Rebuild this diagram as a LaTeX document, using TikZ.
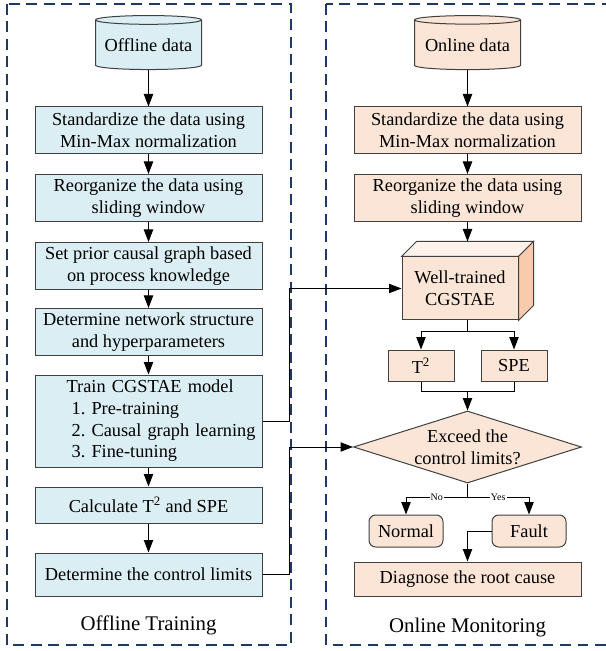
\documentclass[tikz,border=0pt]{standalone}
\usepackage{fontspec}
\setmainfont{Liberation Serif}
\usepackage{tikz}
\usetikzlibrary{arrows.meta, positioning, shapes.geometric, calc}
\definecolor{offblue}{HTML}{DAEEF3}
\definecolor{onpeach}{HTML}{FBE5D6}
\definecolor{cubetop}{HTML}{FDF2EC}
\definecolor{cubeside}{HTML}{F8CBAD}
\definecolor{panelblue}{HTML}{203864}
\tikzset{%
	base/.style={draw=black!75, line width=0.6pt, inner sep=0pt, align=center,%
		font=\fontsize{11}{13}\selectfont\frenchspacing},
	offbox/.style={base, fill=offblue, minimum width=136.2pt, minimum height=28.2pt},
	onbox/.style={base, fill=onpeach, minimum width=136.2pt, minimum height=28.2pt},
	store/.style={base, cylinder, shape border rotate=90, aspect=0.1,%
		minimum width=63.6pt, minimum height=32.4pt},
	decision/.style={base, diamond, fill=onpeach, minimum width=136.8pt,%
		minimum height=43.2pt, aspect=3.2},
	result/.style={base, rounded corners=4pt, fill=onpeach, minimum width=44.4pt,%
		minimum height=19.2pt},
	panel/.style={draw=panelblue, line width=0.7pt, dash pattern=on 6.5pt off 4pt},
	flow/.style={-{Triangle[length=7.5pt, width=5.6pt]}, line width=0.6pt},
	link/.style={line width=0.6pt},
	face/.style={draw=black!75, line width=0.6pt},
	caption/.style={font=\fontsize{12.5}{14}\selectfont},
	tag/.style={fill=white, inner sep=0.6pt, font=\fontsize{6}{6}\selectfont}
}

\begin{document}
\begin{tikzpicture}[x=0.6pt, y=-0.6pt]
	\useasboundingbox (0,0) rectangle (605,651);
	\draw[panel] (7,4) rectangle (291,645);
	\draw[panel] (326,4) rectangle (607,645);

	% offline training
	\node[store, fill=offblue] (offdata) at (148.5,45) {Offline data};
	\node[offbox] (off1) at (148.5,130.5) {Standardize the data using\\Min-Max normalization};
	\node[offbox] (off2) at (148.5,198) {Reorganize the data using\\sliding window};
	\node[offbox] (off3) at (148.5,266) {Set prior causal graph based\\on process knowledge};
	\node[offbox] (off4) at (148.5,332) {Determine network structure\\and hyperparameters};
	\node[offbox, minimum height=55.2pt, text width=136.2pt, align=left] (off5) at (148.5,421)
		{\hspace*{19pt}Train CGSTAE model\\\hspace*{22pt}1. Pre-training\\
		\hspace*{22pt}2. Causal graph learning\\\hspace*{22pt}3. Fine-tuning};
	\node[offbox, minimum height=21.6pt] (off6) at (148.5,505) {Calculate T\textsuperscript{2} and SPE};
	\node[offbox, minimum height=25.8pt] (off7) at (148.5,574.5) {Determine the control limits};
	\node[caption] (offtitle) at (148.5,625) {Offline Training};

	\foreach \a/\b in {offdata/off1, off1/off2, off2/off3, off3/off4, off4/off5, off5/off6, off6/off7}
		\draw[flow] (\a.south) -- (\b.north);

	% online monitoring
	\node[store, fill=onpeach] (ondata) at (467.5,45) {Online data};
	\node[onbox] (on1) at (467.5,130.5) {Standardize the data using\\Min-Max normalization};
	\node[onbox] (on2) at (467.5,198) {Reorganize the data using\\sliding window};
	\node[onbox, minimum width=69.6pt, minimum height=37.8pt] (model) at (460,288.5) {Well-trained\\CGSTAE};
	\draw[face, fill=cubetop] (model.north west) -- ++(15,-15) -- ($(model.north east)+(15,-15)$)
		-- (model.north east) -- cycle;
	\draw[face, fill=cubeside] (model.north east) -- ++(15,-15) -- ($(model.south east)+(15,-15)$)
		-- (model.south east) -- cycle;
	\coordinate (modeltop) at ($(model.north)+(0,-15)$);
	\node[onbox, minimum width=39.6pt, minimum height=18.6pt] (t2) at (421,365.5) {T\textsuperscript{2}};
	\node[onbox, minimum width=39.6pt, minimum height=18.6pt] (spe) at (514,365.5) {SPE};
	\node[decision] (check) at (467.5,447) {Exceed the\\control limits?};
	\node[result] (normal) at (406,531) {Normal};
	\node[result] (fault) at (529,531) {Fault};
	\node[onbox, minimum height=20.4pt] (diag) at (467.5,579) {Diagnose the root cause};
	\node[caption] (ontitle) at (467.5,628) {Online Monitoring};

	\draw[flow] (ondata.south) -- (on1.north);
	\draw[flow] (on1.south) -- (on2.north);
	\draw[flow] (on2.south) -- (on2.south |- modeltop);
	\draw[link] (on2.south |- model.south) -- ++(0,11) coordinate (split);
	\draw[flow] (split) -| (t2.north);
	\draw[flow] (split) -| (spe.north);
	\coordinate (join) at ($(t2.south)!0.5!(spe.south)+(0,10)$);
	\draw[link] (t2.south) |- (join) -| (spe.south);
	\draw[flow] (join) -- (check.north);
	\draw[link] (check.south) -- ++(0,14) coordinate (branch);
	\draw[flow] (branch) -| node[tag, pos=0.25]{No} (normal.north);
	\draw[flow] (branch) -| node[tag, pos=0.25]{Yes} (fault.north);
	\draw[flow] (fault.west) -| (diag.north);

	% links between the two parts
	\draw[flow] (off5.east) -- ++(27,0) |- (model.west);
	\draw[flow] (off7.east) -- ++(27,0) |- (check.west);
\end{tikzpicture}
\end{document}
